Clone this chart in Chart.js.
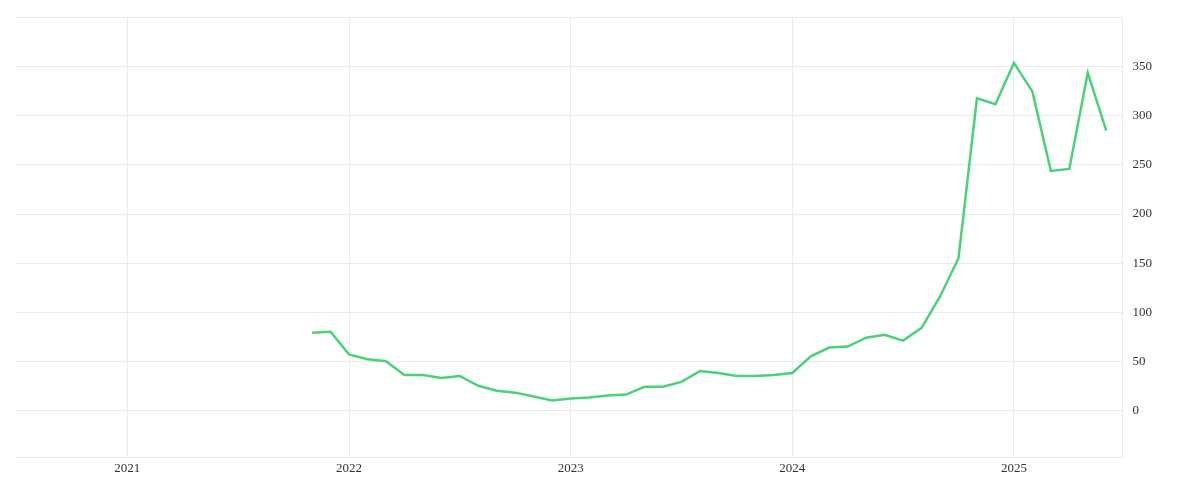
<!DOCTYPE html>
<html><head><meta charset="utf-8">
<script src="https://cdn.jsdelivr.net/npm/chart.js@4"></script>
<style>html,body{margin:0;background:#fff}#w{width:1200px;height:500px}</style>
</head><body><div id="w"><canvas id="c"></canvas></div>
<script>
const startYear = 2021, startMonth = 11;
const values = [79,80,
57,52,50,36,36,33,35,25,20,18,14,10,
12,13,15,16,24,24,29,40,38,35,35,36,
38,55,64,65,74,77,71,84,116,155,318,312,
354,325,244,246,344,285];
const yearTicks = [2021,2022,2023,2024,2025];
const pts = values.map((v,i)=>{const m=startMonth-1+i;return {x:startYear+m/12, y:v};});
new Chart(document.getElementById('c'),{
  type:'line',
  data:{datasets:[{data:pts,borderColor:'#4cd17b',borderWidth:2.5,pointRadius:0,tension:0,fill:false}]},
  options:{responsive:true,maintainAspectRatio:false,animation:false,
    layout:{padding:{left:15,right:38,top:11,bottom:21}},
    plugins:{legend:{display:false},tooltip:{enabled:false}},
    scales:{
      x:{type:'linear',min:2020.493,max:2025.49,
        afterBuildTicks:a=>{a.ticks=yearTicks.map(v=>({value:v}));},
        ticks:{color:'#333',font:{family:'Liberation Serif',size:13},callback:v=>String(v),maxRotation:0},
        grid:{color:'#ebebeb',drawTicks:false},border:{display:true,color:'#ebebeb'}},
      y:{position:'right',min:-48,max:400,
        afterBuildTicks:a=>{a.ticks=[0,50,100,150,200,250,300,350,400].map(v=>({value:v}));},
        ticks:{color:'#333',padding:10,font:{family:'Liberation Serif',size:13},callback:v=>v>=400?'':String(v)},
        grid:{color:'#ebebeb',drawTicks:false},border:{display:true,color:'#ebebeb'}}
    }}
});
</script></body></html>
